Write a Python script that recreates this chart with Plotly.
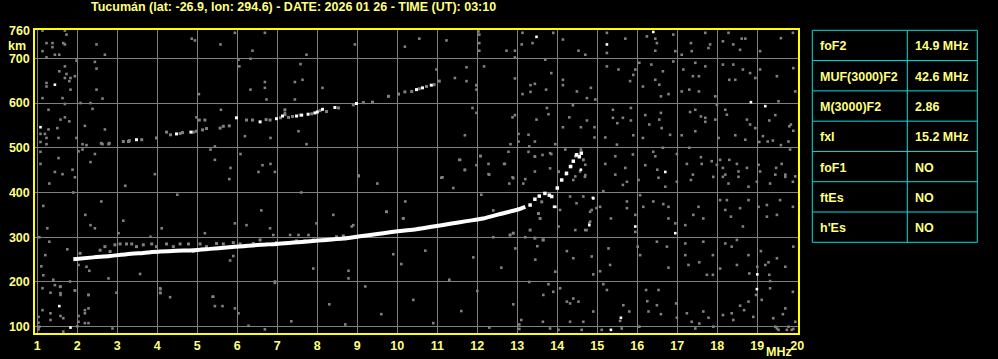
import plotly.graph_objects as go

# ---------------- data (frequency MHz, virtual height km) ----------------
title_text = "Tucumán (lat: -26.9, lon: 294.6) - DATE: 2026 01 26 - TIME (UT): 03:10"
x_ticks = list(range(1, 21))
y_ticks = [100, 200, 300, 400, 500, 600, 700]

param_names = ["foF2", "MUF(3000)F2", "M(3000)F2", "fxI", "foF1", "ftEs", "h'Es"]
param_values = ["14.9 MHz", "42.6 MHz", "2.86", "15.2 MHz", "NO", "NO", "NO"]

# main F-layer echo (o-trace)
f_trace_freq = [1.90, 2.40, 2.82, 3.23, 3.65, 4.07, 4.48, 4.90, 5.32, 5.73, 6.15, 6.57, 6.98,
                7.40, 7.82, 8.23, 8.65, 8.82, 9.07, 9.23, 9.65, 10.07, 10.48, 10.90, 11.32, 11.73,
                12.15, 12.57, 12.98, 13.20]
f_trace_km = [251, 255, 258, 262, 265, 268, 270, 271, 274, 277, 280, 283, 285,
              288, 291, 294, 297, 299, 302, 304, 309, 314, 318, 324, 330, 336,
              342, 352, 361, 368]

# broken tail of the F trace near the critical frequency
f_tail_freq = [13.32, 13.44, 13.55, 13.69, 13.80, 13.86, 14.00, 14.11, 14.23, 14.33, 14.40, 14.48, 14.55, 14.60]
f_tail_km = [372, 385, 392, 398, 394, 391, 410, 428, 443, 458, 470, 484, 480, 488]

# gray spread just above the main trace
f_fuzz_freq = [2.07, 2.57, 2.69, 2.82, 2.94, 3.07, 3.23, 3.36, 3.48, 3.65, 3.86, 3.98, 4.23, 4.40,
               4.57, 4.78, 4.90, 5.07, 5.23, 5.48, 5.65, 5.90, 6.07, 6.19, 6.40, 6.57, 6.73, 6.98,
               7.23, 7.48, 7.69, 7.90, 8.15, 8.48, 8.65, 9.03, 9.73, 10.15, 12.82, 12.90, 13.32,
               13.44, 13.65, 13.53, 13.57, 13.61]
f_fuzz_km = [264, 271, 279, 268, 283, 285, 285, 285, 279, 283, 285, 279, 285, 279,
             285, 285, 268, 285, 279, 286, 285, 288, 285, 279, 286, 294, 285, 288,
             286, 292, 292, 294, 294, 301, 303, 437, 357, 342, 305, 309, 316,
             298, 294, 353, 342, 379]

# second-hop echo
hop2_white_freq = [3.48, 4.48, 4.84, 5.98, 6.57, 6.98, 7.13, 7.48, 7.61, 7.77, 7.94, 8.00,
                   8.13, 8.44, 8.98, 10.48, 10.63, 10.85]
hop2_white_km = [518, 531, 535, 567, 558, 565, 571, 571, 573, 575, 578, 580,
                 586, 590, 599, 630, 634, 640]
hop2_gray_freq = [2.60, 2.80, 3.15, 3.28, 3.30, 3.61, 3.98, 4.23, 4.33, 4.57, 4.63, 4.90, 4.98,
                  5.13, 5.23, 5.57, 5.65, 5.80, 5.05, 5.19, 6.23, 6.38, 6.72, 6.82, 7.08, 7.19,
                  7.28, 7.38, 7.57, 7.86, 8.07, 8.23, 8.53, 8.90, 9.15, 9.38, 9.78, 10.03, 10.19,
                  10.36, 10.55, 10.73, 10.92, 11.05]
hop2_gray_km = [510, 510, 514, 514, 516, 518, 522, 535, 529, 532, 534, 535, 537,
                540, 543, 544, 548, 549, 562, 562, 562, 562, 563, 562, 567, 574,
                568, 570, 573, 576, 583, 581, 589, 596, 601, 602, 615, 620, 625,
                626, 632, 637, 641, 649]

# scattered interference / noise pixels
noise_gray = [
    (13.90, 757), (14.14, 742), (14.53, 717), (14.70, 708), (15.24, 757), (15.24, 712), (15.70, 744),
    (16.24, 749), (16.45, 744), (16.49, 734), (16.45, 717), (16.90, 753), (16.95, 716), (17.11, 708),
    (17.34, 734), (17.36, 716), (17.70, 757), (17.82, 731), (17.78, 723), (18.14, 738), (18.28, 757),
    (18.40, 731), (18.57, 719), (18.61, 744), (18.70, 744), (19.07, 716), (19.59, 745), (19.89, 757),
    (13.70, 697), (13.85, 667), (14.14, 652), (14.14, 640), (13.72, 630), (14.49, 626), (14.84, 634),
    (14.95, 608), (14.74, 611), (15.24, 682), (15.53, 675), (15.82, 649), (15.90, 663), (15.95, 675),
    (16.05, 690), (16.14, 637), (16.35, 686), (16.45, 652), (16.55, 641), (16.59, 615), (16.64, 671),
    (16.78, 620), (16.90, 693), (17.11, 626), (17.15, 675), (17.30, 630), (17.39, 660), (17.45, 690),
    (17.54, 660), (17.54, 626), (17.70, 682), (17.95, 615), (18.14, 686), (18.30, 652), (18.40, 686),
    (18.45, 652), (18.64, 675), (18.82, 667), (18.95, 656), (19.07, 675), (19.49, 660), (19.90, 678),
    (19.95, 626), (19.53, 604), (13.74, 589), (13.78, 575), (14.14, 546), (14.30, 568), (14.39, 595),
    (14.59, 546), (14.74, 561), (14.93, 546), (14.93, 523), (15.20, 523), (15.39, 567), (15.39, 585),
    (15.50, 555), (15.64, 567), (15.84, 589), (15.84, 561), (15.90, 528), (16.14, 522), (16.20, 573),
    (16.30, 552), (16.59, 578), (16.55, 563), (16.61, 544), (16.82, 529), (17.11, 528), (17.32, 580),
    (17.45, 585), (17.45, 537), (17.59, 570), (17.70, 567), (17.70, 558), (17.95, 563), (17.99, 596),
    (18.03, 522), (18.20, 585), (18.24, 574), (18.45, 528), (18.70, 518), (18.74, 563), (18.82, 552),
    (18.95, 544), (19.05, 513), (19.14, 526), (19.26, 514), (19.30, 561), (19.39, 516), (19.45, 573),
    (19.59, 506), (19.78, 514), (19.80, 548), (19.84, 552), (19.90, 538), (13.85, 486), (13.95, 508),
    (14.20, 496), (14.45, 481), (14.59, 496), (14.65, 473), (14.70, 462), (14.57, 447), (14.45, 436),
    (14.03, 446), (14.22, 440), (15.45, 481), (15.49, 507), (15.20, 464), (15.45, 440), (15.70, 455),
    (15.89, 485), (16.20, 461), (16.40, 491), (16.45, 481), (16.50, 451), (16.64, 500), (16.99, 486),
    (17.24, 464), (17.30, 500), (17.39, 440), (17.59, 479), (17.61, 464), (17.86, 470), (17.99, 462),
    (18.07, 473), (18.14, 455), (18.20, 440), (18.30, 473), (18.49, 464), (18.53, 447), (18.74, 455),
    (19.03, 462), (19.07, 447), (19.45, 440), (19.47, 455), (19.61, 464), (19.70, 440), (19.82, 496),
    (19.95, 436),
    (14.40, 428), (14.70, 439), (15.15, 403), (15.64, 417), (15.74, 424), (16.03, 428), (16.53, 433),
    (16.70, 413), (16.99, 424), (17.34, 428), (17.90, 435), (18.14, 435), (18.28, 420), (18.53, 435),
    (18.78, 413), (18.99, 424), (19.32, 420), (19.70, 435), (19.89, 424), (14.65, 391), (15.07, 368),
    (15.34, 342), (14.86, 361), (15.74, 380), (15.74, 365), (15.95, 350), (15.95, 312), (16.07, 394),
    (16.15, 368), (16.40, 380), (16.65, 374), (16.78, 368), (16.78, 342), (16.95, 331), (17.20, 327),
    (17.40, 350), (17.53, 368), (17.65, 342), (18.07, 383), (18.20, 361), (18.24, 383), (18.34, 346),
    (18.57, 365), (18.64, 324), (18.78, 383), (19.03, 368), (19.24, 372), (19.24, 346), (19.49, 350),
    (19.89, 368), (19.57, 383), (14.07, 361), (14.03, 324), (14.45, 316), (14.70, 316), (14.80, 331),
    (13.64, 294), (14.24, 269), (14.40, 253), (14.86, 257), (14.90, 217), (15.28, 275), (15.32, 238),
    (15.07, 224), (16.01, 279), (16.07, 260), (16.49, 290), (16.74, 279), (16.78, 232), (17.20, 286),
    (17.20, 260), (17.28, 238), (17.55, 244), (17.65, 290), (17.74, 216), (17.89, 260), (17.89, 216),
    (18.07, 230), (18.20, 286), (18.36, 279), (18.49, 294), (18.49, 238), (18.78, 260), (18.80, 219),
    (19.00, 234), (19.09, 269), (19.20, 238), (19.28, 244), (19.30, 216), (19.32, 202), (19.49, 253),
    (19.70, 234), (19.90, 279), (13.95, 223), (13.78, 195), (13.65, 171), (13.90, 178), (14.07, 186),
    (14.24, 156), (14.32, 152), (14.40, 163), (14.53, 156), (14.65, 111), (14.32, 111), (15.15, 195),
    (15.24, 182), (14.90, 134), (15.57, 113), (15.65, 148), (15.80, 134), (16.05, 100), (16.22, 182),
    (16.25, 157), (16.28, 134), (16.49, 148), (16.53, 182), (16.59, 128), (16.97, 152), (16.99, 120),
    (17.24, 130), (17.36, 111), (17.45, 96), (17.55, 107), (17.65, 134), (17.78, 120), (17.90, 100),
    (18.14, 126), (18.36, 130), (18.40, 115), (18.57, 147), (18.67, 137), (18.78, 156), (18.90, 122),
    (18.97, 171), (19.11, 160), (19.32, 186), (19.40, 119), (19.45, 100), (19.53, 93), (19.64, 128),
    (19.70, 141), (19.78, 100), (19.90, 95), (19.89, 178), (19.95, 111), (13.82, 96), (14.03, 93),
    (14.61, 93), (15.11, 93), (15.61, 96), (19.49, 96), (19.74, 93), (19.86, 93), (13.64, 111),
    (1.13, 762), (1.69, 762), (1.73, 753), (1.23, 734), (1.38, 734), (1.38, 725), (1.65, 734),
    (1.69, 731), (1.13, 716), (1.44, 708), (1.55, 708), (1.23, 702), (2.48, 731), (2.69, 708),
    (4.86, 744), (4.94, 740), (5.58, 731), (5.94, 757), (6.69, 757), (6.38, 717), (6.33, 699),
    (6.03, 697), (6.05, 682), (1.98, 695), (2.44, 692), (2.48, 677), (1.69, 682), (1.55, 671),
    (1.73, 665), (1.69, 656), (1.83, 656), (1.94, 660), (1.80, 649), (1.23, 645), (1.23, 637),
    (1.83, 630), (1.63, 611), (1.13, 611), (2.08, 600), (2.33, 600), (2.63, 610), (2.48, 630),
    (2.38, 587), (1.69, 598), (1.28, 585), (1.69, 568), (1.58, 563), (1.80, 559), (1.50, 544),
    (1.28, 541), (1.19, 531), (1.08, 531), (1.23, 522), (1.53, 522), (1.08, 513), (1.23, 508),
    (1.98, 522), (2.13, 508), (2.23, 506), (2.63, 508), (2.78, 508), (2.69, 541), (2.19, 549),
    (5.04, 620), (5.59, 585), (6.69, 647), (6.69, 634), (6.33, 630), (6.73, 608), (7.19, 585),
    (6.19, 526), (6.83, 522), (5.44, 503), (5.33, 496), (6.08, 486), (5.44, 473), (5.83, 455),
    (6.63, 461), (6.83, 464), (6.94, 446), (6.53, 446), (1.08, 491), (1.08, 464), (1.53, 477),
    (1.44, 446), (1.63, 441), (1.88, 451), (1.94, 434), (2.03, 492), (2.13, 496), (2.44, 486),
    (2.33, 468), (3.94, 441), (4.98, 568),
    (8.94, 731), (10.19, 726), (10.55, 744), (11.23, 740), (12.03, 760), (12.05, 753), (12.05, 734),
    (12.05, 717), (12.73, 717), (12.94, 717), (12.94, 702), (13.11, 731), (13.13, 757), (13.38, 734),
    (7.73, 708), (7.58, 687), (7.44, 647), (7.63, 652), (8.13, 634), (10.98, 675), (11.44, 656),
    (11.73, 680), (11.73, 649), (11.98, 640), (11.98, 630), (12.17, 682), (12.94, 655), (13.13, 620),
    (13.33, 640), (13.33, 625), (13.44, 643), (7.44, 608), (7.19, 585), (7.19, 578), (11.88, 589),
    (11.98, 578), (12.88, 568), (12.94, 573), (13.48, 563), (7.53, 537), (7.73, 508), (11.69, 528),
    (12.83, 508), (13.03, 531), (13.03, 514), (13.28, 529), (13.30, 503), (13.44, 514), (13.28, 491),
    (13.44, 481), (12.78, 491), (12.08, 481), (11.55, 473), (11.69, 451), (12.30, 440), (12.28, 464),
    (12.69, 464), (12.88, 434), (13.44, 447), (9.03, 438), (11.13, 434),
    (1.13, 186), (1.33, 176), (1.44, 193), (1.58, 190), (1.58, 175), (1.58, 171), (1.94, 181),
    (2.28, 171), (2.28, 141), (2.19, 137), (2.19, 130), (2.03, 124), (2.03, 111), (2.00, 101),
    (2.19, 108), (2.28, 108), (1.13, 137), (1.33, 130), (1.33, 115), (1.58, 124), (1.65, 119),
    (1.03, 122), (1.03, 109), (1.05, 100), (1.03, 94), (1.65, 89), (2.88, 96), (2.98, 176),
    (4.08, 184), (4.08, 175), (5.38, 167), (5.44, 146), (5.63, 146), (5.94, 141), (6.03, 130),
    (6.28, 102), (6.69, 94), (6.94, 198),
    (2.33, 327), (2.44, 320), (3.03, 309), (3.15, 337), (3.83, 301), (4.11, 320), (5.19, 309),
    (5.94, 331), (6.23, 327), (6.82, 320), (6.90, 305), (7.32, 305), (7.53, 305), (7.78, 305),
    (7.98, 331), (8.86, 324), (8.90, 327), (1.75, 273), (2.03, 238), (2.23, 234), (1.82, 201),
    (1.94, 181), (1.57, 189), (2.30, 225), (2.78, 208), (3.57, 218), (4.07, 186), (4.07, 176),
    (5.40, 167), (5.82, 248), (5.90, 258), (6.94, 201), (8.78, 225), (8.78, 208), (2.28, 171),
    (4.32, 166),
    (7.35, 112), (7.90, 230), (8.30, 150), (8.70, 105), (9.20, 190), (9.60, 128), (10.10, 240),
    (10.40, 160), (10.90, 108), (11.30, 205), (11.60, 135), (12.00, 180), (12.30, 98), (12.60, 232),
    (12.90, 150), (13.10, 115), (13.30, 200), (13.45, 250), (11.90, 255), (10.70, 270), (12.40, 300),
    (9.90, 262), (13.20, 300), (13.50, 280), (12.95, 275), (13.05, 95), (13.05, 105),
    (1.20, 260), (1.10, 235), (1.30, 290), (1.05, 300), (1.15, 215), (1.40, 205), (1.25, 320),
    (1.30, 420), (1.90, 400), (2.60, 380), (3.20, 415), (4.50, 395), (5.80, 430), (6.60, 360),
    (7.60, 400), (8.40, 350), (9.50, 420), (10.20, 380), (11.40, 410), (12.10, 395), (12.80, 420),
    (13.20, 430), (1.15, 370), (2.20, 350), (12.40, 360),
    (11.10, 433), (11.57, 473), (11.69, 450), (11.98, 461), (12.08, 482), (12.28, 441), (12.67, 464),
    (12.90, 432), (13.15, 420), (13.44, 480), (13.63, 484), (13.82, 488), (13.82, 454), (14.03, 447),
    (14.65, 473), (14.69, 435), (14.82, 357), (14.98, 365), (14.32, 391), (14.48, 376), (14.73, 316),
    (14.82, 335), (11.98, 640),
]
noise_white = [
    (15.24, 731), (16.40, 759), (18.84, 602), (19.20, 593), (14.49, 485), (14.34, 459), (14.59, 451),
    (16.70, 446), (14.89, 388), (13.95, 368), (14.80, 327), (15.95, 324), (16.95, 309), (15.59, 120),
    (15.34, 93), (19.00, 217), (18.99, 184), (1.44, 641), (1.08, 546), (1.55, 146), (1.83, 98),
    (13.48, 748), (13.92, 368), (14.90, 387),
]

# ---------------- figure ----------------
FONT = "Liberation Sans, Arial, sans-serif"
TXT = "#ffff80"
YEL = "#ffff00"
GRAY = "#808080"
CYAN = "#00e0e0"

W, H = 998, 359
ML, MR, MT, MB = 35, 200, 30, 26
PW, PH = W - ML - MR, H - MT - MB


def px(xp):
    return (xp - ML) / PW


def py(yp):
    return (H - MB - yp) / PH


fig = go.Figure()

fig.add_trace(go.Scatter(
    x=[p[0] for p in noise_gray], y=[p[1] for p in noise_gray], mode="markers",
    marker=dict(symbol="square", size=2.6, color=GRAY, line=dict(width=0)), hoverinfo="skip"))
fig.add_trace(go.Scatter(
    x=f_fuzz_freq, y=f_fuzz_km, mode="markers",
    marker=dict(symbol="square", size=3, color=GRAY, line=dict(width=0)), hoverinfo="skip"))
fig.add_trace(go.Scatter(
    x=hop2_gray_freq, y=hop2_gray_km, mode="markers",
    marker=dict(symbol="square", size=3, color=GRAY, line=dict(width=0)), hoverinfo="skip"))
fig.add_trace(go.Scatter(
    x=[p[0] for p in noise_white], y=[p[1] for p in noise_white], mode="markers",
    marker=dict(symbol="square", size=2.6, color="#ffffff", line=dict(width=0)), hoverinfo="skip"))
fig.add_trace(go.Scatter(
    x=hop2_white_freq, y=hop2_white_km, mode="markers",
    marker=dict(symbol="square", size=3, color="#ffffff", line=dict(width=0)), hoverinfo="skip"))
fig.add_trace(go.Scatter(
    x=f_trace_freq, y=f_trace_km, mode="lines",
    line=dict(color="#ffffff", width=4, shape="spline", smoothing=0.8), hoverinfo="skip"))
fig.add_trace(go.Scatter(
    x=f_tail_freq, y=f_tail_km, mode="markers",
    marker=dict(symbol="square", size=3.5, color="#ffffff", line=dict(width=0)), hoverinfo="skip"))

font_main = dict(family=FONT, size=12.5, color=TXT, weight="bold")

fig.update_xaxes(
    range=[1 + (ML - 37.3) / 40, 1 + (W - MR - 37.3) / 40],
    tickvals=x_ticks, ticktext=[str(v) for v in x_ticks],
    showgrid=True, gridcolor=GRAY, gridwidth=1, zeroline=False,
    showline=True, linecolor=YEL, linewidth=1.5, mirror=True,
    ticks="", tickfont=font_main, ticklabelstandoff=0, automargin=False,
)
fig.update_yaxes(
    range=[100 - (H - MB - 326.7) / 0.4473, 100 + (326.7 - MT) / 0.4473],
    tickvals=y_ticks, ticktext=[str(v) for v in y_ticks],
    showgrid=True, gridcolor=GRAY, gridwidth=1, zeroline=False,
    showline=True, linecolor=YEL, linewidth=1.5, mirror=True,
    ticks="", tickfont=font_main, ticklabelstandoff=1, automargin=False,
)

annotations = [
    dict(text=title_text, x=px(293), y=py(6.5), xref="paper", yref="paper",
         xanchor="center", yanchor="middle", showarrow=False, font=font_main),
    dict(text="760", x=px(32), y=760, xref="paper", yref="y",
         xanchor="right", yanchor="middle", showarrow=False, font=font_main),
    dict(text="km", x=px(6), y=py(45.5), xref="paper", yref="paper",
         xanchor="left", yanchor="middle", showarrow=False, font=font_main),
    dict(text="MHz", x=px(779), y=py(351.5), xref="paper", yref="paper",
         xanchor="center", yanchor="middle", showarrow=False, font=font_main),
]

shapes = []
tx0, tx1, tcol = 812.3, 977.3, 907.3
ty0, ty1 = 30.3, 242.3
rh = (ty1 - ty0) / len(param_names)
shapes.append(dict(type="rect", xref="paper", yref="paper", x0=px(tx0), x1=px(tx1),
                   y0=py(ty1), y1=py(ty0), line=dict(color=CYAN, width=1)))
shapes.append(dict(type="line", xref="paper", yref="paper", x0=px(tcol), x1=px(tcol),
                   y0=py(ty1), y1=py(ty0), line=dict(color=CYAN, width=1)))
for i in range(1, len(param_names)):
    yy = ty0 + i * rh
    shapes.append(dict(type="line", xref="paper", yref="paper", x0=px(tx0), x1=px(tx1),
                       y0=py(yy), y1=py(yy), line=dict(color=CYAN, width=1)))
for i, (nm, val) in enumerate(zip(param_names, param_values)):
    yc = ty0 + (i + 0.5) * rh + 1
    annotations.append(dict(text=nm, x=px(817.5), y=py(yc), xref="paper", yref="paper",
                            xanchor="left", yanchor="middle", showarrow=False, font=font_main))
    annotations.append(dict(text=val, x=px(913.3), y=py(yc), xref="paper", yref="paper",
                            xanchor="left", yanchor="middle", showarrow=False, font=font_main))

fig.update_layout(
    width=W, height=H, autosize=False,
    margin=dict(l=ML, r=MR, t=MT, b=MB, pad=0),
    paper_bgcolor="#000000", plot_bgcolor="#000000",
    showlegend=False,
    annotations=annotations, shapes=shapes,
)

fig.write_html("out.html", include_plotlyjs=True, full_html=True,
               config=dict(displayModeBar=False, responsive=False))
